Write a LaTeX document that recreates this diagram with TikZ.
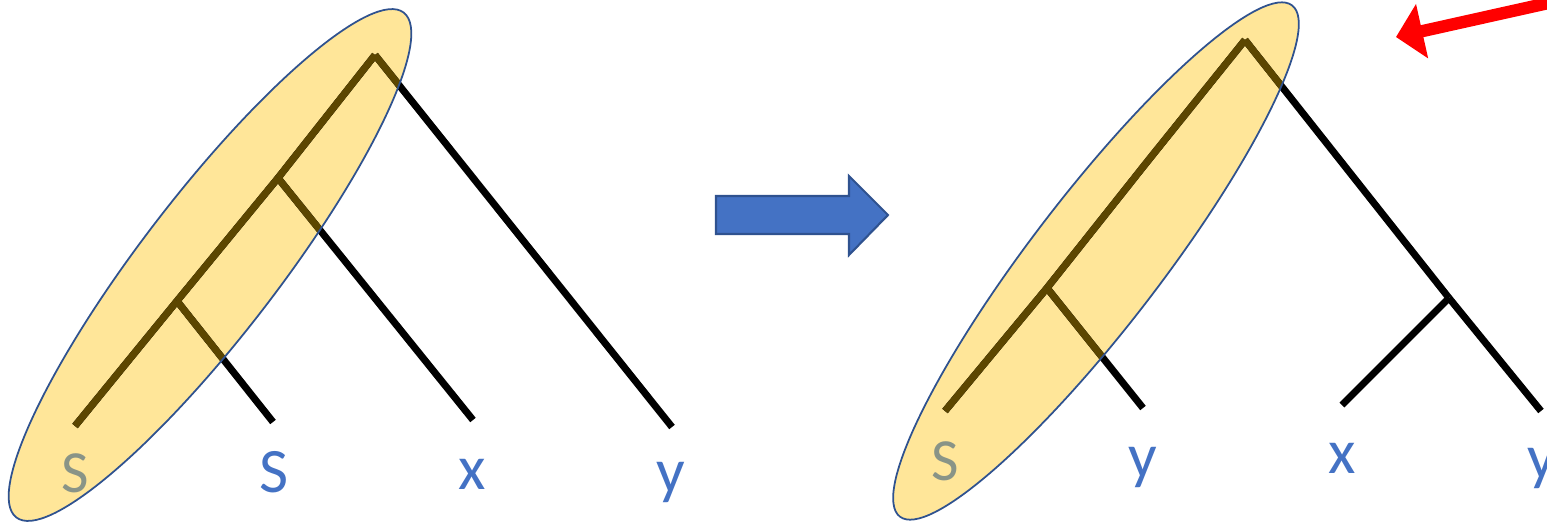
\documentclass[tikz,border=0pt]{standalone}
\usepackage{fontspec}
\newfontfamily\leaffont{Carlito}
\usetikzlibrary{arrows.meta}
\definecolor{stembrown}{RGB}{92,70,0}
\definecolor{blobyellow}{HTML}{FFE699}
\definecolor{rimblue}{HTML}{2F528F}
\definecolor{leafblue}{HTML}{4472C4}
\definecolor{leafgray}{RGB}{137,148,135}

\begin{document}
\begin{tikzpicture}[x=0.01cm, y=-0.01cm,
  branch/.style={line width=2pt, line cap=butt},
  blob/.style={fill=blobyellow},
  rim/.style={draw=rimblue, line width=0.5pt},
  leaf/.style={font=\leaffont\fontsize{#1}{#1}\selectfont, text=leafblue, anchor=base, inner sep=0pt},
  leaf/.default=18,
  moved/.style={text=leafgray},
  shiftarrow/.style={fill=leafblue, draw=rimblue, line width=0.6pt, line join=miter},
  pointer/.style={draw=red, line width=3.5pt, -{Triangle[length=7.6pt, width=15.4pt]}}
]
\clip (0,0) rectangle (1547,530);

% Left tree
\coordinate (lS)  at (75,426);
\coordinate (lA)  at (177,301);
\coordinate (lB)  at (278,178);
\coordinate (lR)  at (375,55);
\coordinate (lS2) at (273,422);
\coordinate (lx)  at (473,420);
\coordinate (ly)  at (672,427);
\coordinate (lc)  at (210,265);

% Right tree
\coordinate (rS)  at (945,411);
\coordinate (rA)  at (1047,288);
\coordinate (rM)  at (1147,162);
\coordinate (rR)  at (1245,40);
\coordinate (ry1) at (1143,408);
\coordinate (rB)  at (1449,298);
\coordinate (rx)  at (1342,405);
\coordinate (ry2) at (1541,411);
\coordinate (rc)  at (1096,261);

% Highlighted chains
\fill[blob, rotate around={52.5:(lc)}] (lc) ellipse [x radius=3.18cm, y radius=0.69cm];
\fill[blob, rotate around={52.5:(rc)}] (rc) ellipse [x radius=3.22cm, y radius=0.65cm];

% Branches
\foreach \a/\b in {lS/lA, lA/lB, lB/lR, lA/lS2, lB/lx, lR/ly,
                   rS/rA, rA/rM, rM/rR, rA/ry1, rR/rB, rB/ry2, rB/rx}
  \draw[branch] (\a) -- (\b);

\begin{scope}
  \clip[rotate around={52.5:(lc)}] (lc) ellipse [x radius=3.18cm, y radius=0.69cm];
  \foreach \a/\b in {lS/lA, lA/lB, lB/lR, lA/lS2, lB/lx, lR/ly}
    \draw[branch, draw=stembrown] (\a) -- (\b);
\end{scope}
\begin{scope}
  \clip[rotate around={52.5:(rc)}] (rc) ellipse [x radius=3.22cm, y radius=0.65cm];
  \foreach \a/\b in {rS/rA, rA/rM, rM/rR, rA/ry1, rR/rB}
    \draw[branch, draw=stembrown] (\a) -- (\b);
\end{scope}

\draw[rim, rotate around={52.5:(lc)}] (lc) ellipse [x radius=3.18cm, y radius=0.69cm];
\draw[rim, rotate around={52.5:(rc)}] (rc) ellipse [x radius=3.22cm, y radius=0.65cm];

% Leaves
\node[leaf=17, moved] (tS)  at (75,492)   {S};
\node[leaf]           (tS2) at (274,492)  {S};
\node[leaf]           (tx)  at (472,489)  {x};
\node[leaf]           (ty)  at (671,492)  {y};
\node[leaf=17, moved] (uS)  at (945,480)  {S};
\node[leaf]           (uy1) at (1143,477) {y};
\node[leaf]           (ux)  at (1342,473) {x};
\node[leaf]           (uy2) at (1542,478) {y};

% Arrows
\draw[shiftarrow] (716,196) -- (849,196) -- (849,176) -- (888,215)
  -- (849,255) -- (849,234) -- (716,234) -- cycle;
\coordinate (ptail) at (1562,0);
\coordinate (ptip)  at (1396,37);
\draw[pointer] (ptail) -- (ptip);
\end{tikzpicture}
\end{document}
